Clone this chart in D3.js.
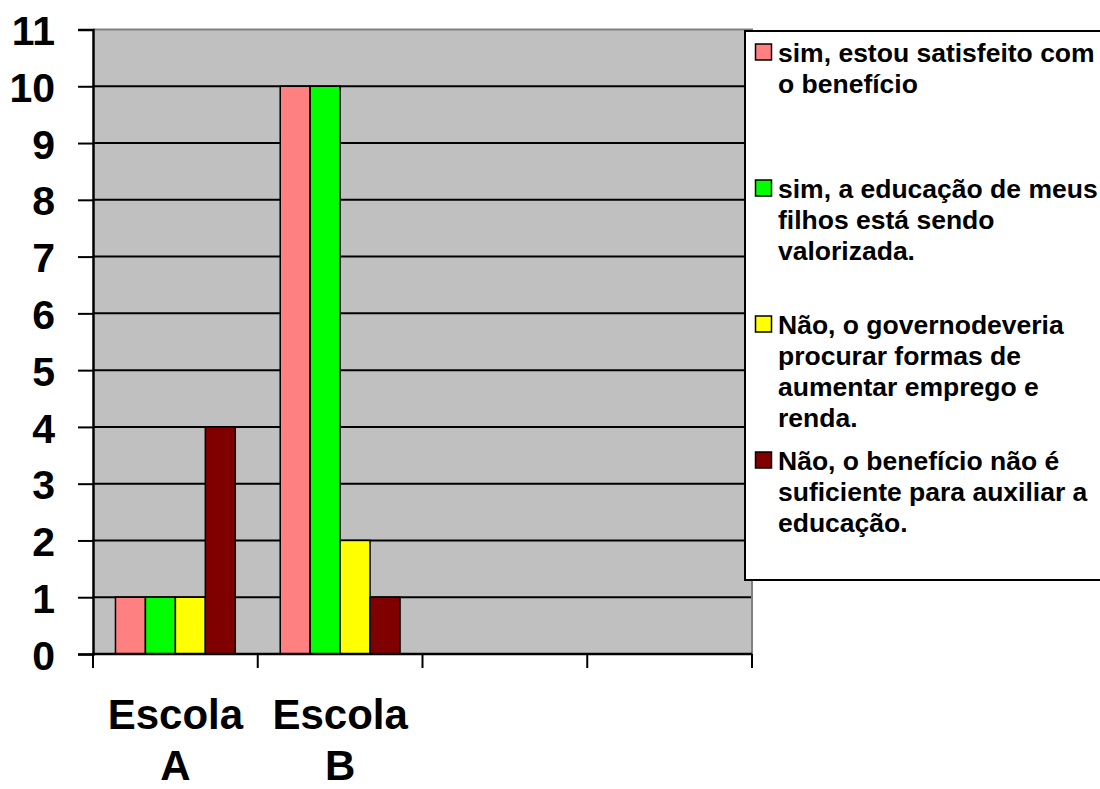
<!DOCTYPE html>
<html>
<head>
<meta charset="utf-8">
<script src="https://cdn.jsdelivr.net/npm/d3@7"></script>
<style>
  html, body { margin: 0; padding: 0; background: #ffffff; }
  svg { display: block; }
  text { font-family: "Liberation Sans", Arial, Helvetica, sans-serif; font-weight: bold; fill: #000; }
</style>
</head>
<body>
<svg id="chart" width="1100" height="789"></svg>
<script>
// Category slots along the x axis (the last two slots carry no data)
const categories = ["Escola A", "Escola B", "", ""];

// Answer counts per category, one array per response
const satisfeito  = [1, 10, null, null];
const valorizada  = [1, 10, null, null];
const emprego     = [1, 2, null, null];
const insuficiente = [4, 1, null, null];

const seriesNames = [
  "sim, estou satisfeito com o benefício",
  "sim, a educação de meus filhos está sendo valorizada.",
  "Não, o governodeveria procurar formas de aumentar emprego e renda.",
  "Não, o benefício não é suficiente para auxiliar a educação."
];
const seriesColors = ["#FF8080", "#00FF00", "#FFFF00", "#800000"];

// Legend text broken into the lines it wraps to
const legendLines = [
  ["sim, estou satisfeito com", "o benefício"],
  ["sim, a educação de meus", "filhos está sendo", "valorizada."],
  ["Não, o governodeveria", "procurar formas de", "aumentar emprego e", "renda."],
  ["Não, o benefício não é", "suficiente para auxiliar a", "educação."]
];

const yTicks = d3.range(0, 12);

const series = [satisfeito, valorizada, emprego, insuficiente].map((vals, i) => ({
  name: seriesNames[i], color: seriesColors[i], values: vals
}));

const svg = d3.select("#chart");

const plot = { left: 93, right: 752, top: 29.5, bottom: 654 };

const x = d3.scaleBand()
  .domain(categories.map((_, i) => i))
  .range([plot.left, plot.right])
  .paddingInner(0).paddingOuter(0);

const y = d3.scaleLinear().domain([0, 11]).range([plot.bottom, plot.top]);

// Bars take 4 of 5.5 bar-widths per slot (150% gap between groups)
const barW = x.bandwidth() / 5.5;
const groupOffset = barW * 0.75;

// Plot background
svg.append("rect")
  .attr("x", plot.left).attr("y", plot.top)
  .attr("width", plot.right - plot.left).attr("height", plot.bottom - plot.top)
  .attr("fill", "#C0C0C0");

// Horizontal gridlines
svg.append("g")
  .selectAll("line")
  .data(yTicks.filter(t => t > 0 && t < 11))
  .join("line")
  .attr("x1", plot.left).attr("x2", plot.right)
  .attr("y1", d => y(d)).attr("y2", d => y(d))
  .attr("stroke", "#000").attr("stroke-width", 2);

// Top and right frame in grey
svg.append("path")
  .attr("d", `M${plot.left},${plot.top}H${plot.right}V${plot.bottom}`)
  .attr("fill", "none").attr("stroke", "#808080").attr("stroke-width", 2);

// Bars
const barsG = svg.append("g");
series.forEach((s, si) => {
  barsG.append("g")
    .selectAll("rect")
    .data(s.values.map((v, ci) => ({ v, ci })).filter(d => d.v != null))
    .join("rect")
    .attr("x", d => x(d.ci) + groupOffset + si * barW)
    .attr("y", d => y(d.v))
    .attr("width", barW)
    .attr("height", d => y(0) - y(d.v))
    .attr("fill", s.color)
    .attr("stroke", "#000")
    .attr("stroke-width", 1.5);
});

// Y axis
const yAxis = svg.append("g")
  .attr("transform", `translate(${plot.left},0)`)
  .call(d3.axisLeft(y).tickValues(yTicks).tickSize(15).tickPadding(0).tickFormat(d3.format("d")));
yAxis.select(".domain").attr("stroke", "#000").attr("stroke-width", 2.5);
yAxis.selectAll(".tick line").attr("stroke", "#000").attr("stroke-width", 2);
yAxis.selectAll(".tick text")
  .attr("x", -38)
  .attr("dy", "0.37em")
  .style("font-size", "41px")
  .style("font-family", '"Liberation Sans", Arial, sans-serif')
  .style("font-weight", "bold")
  .attr("fill", "#000");

// X axis: ticks at slot boundaries
const boundaries = categories.map((_, i) => x(i)).concat([plot.right]);
svg.append("line")
  .attr("x1", plot.left - 1).attr("x2", plot.right)
  .attr("y1", plot.bottom).attr("y2", plot.bottom)
  .attr("stroke", "#000").attr("stroke-width", 2.5);
svg.append("g")
  .selectAll("line")
  .data(boundaries)
  .join("line")
  .attr("x1", d => d).attr("x2", d => d)
  .attr("y1", plot.bottom).attr("y2", plot.bottom + 14)
  .attr("stroke", "#000").attr("stroke-width", 2);

// Category labels, wrapped onto two lines
const xLabels = svg.append("g");
categories.forEach((c, i) => {
  if (!c) return;
  const words = c.split(" ");
  const t = xLabels.append("text")
    .attr("text-anchor", "middle")
    .style("font-size", "42px");
  words.forEach((w, wi) => {
    t.append("tspan")
      .attr("x", x(i) + x.bandwidth() / 2)
      .attr("y", 729 + wi * 51)
      .text(w);
  });
});

// Legend
const legend = { x: 745, y: 31, w: 370, h: 549 };
svg.append("rect")
  .attr("x", legend.x).attr("y", legend.y)
  .attr("width", legend.w).attr("height", legend.h)
  .attr("fill", "#fff").attr("stroke", "#000").attr("stroke-width", 2);

const itemStep = 136;
const firstBaseline = 62;
series.forEach((s, i) => {
  const base = firstBaseline + i * itemStep;
  svg.append("rect")
    .attr("x", 755.5).attr("y", base - 18)
    .attr("width", 16).attr("height", 16)
    .attr("fill", s.color).attr("stroke", "#000").attr("stroke-width", 1.5);
  const t = svg.append("text").style("font-size", "26.5px");
  legendLines[i].forEach((line, li) => {
    t.append("tspan")
      .attr("x", 778)
      .attr("y", base + li * 31)
      .text(line);
  });
});
</script>
</body>
</html>
